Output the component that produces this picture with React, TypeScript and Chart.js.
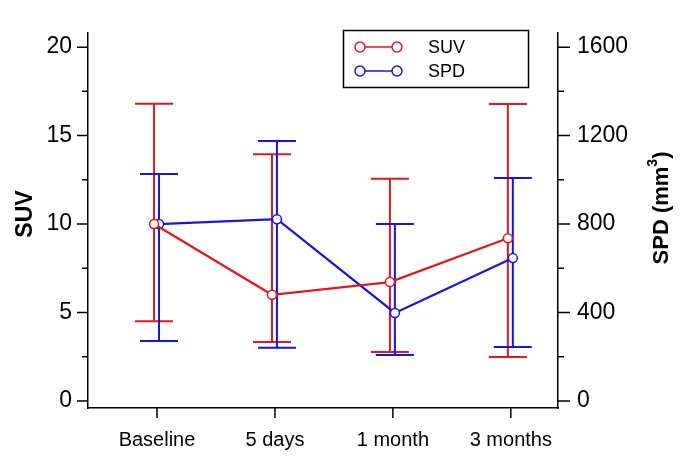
import React, { useEffect, useRef } from "react";
import { Chart, registerables } from "chart.js";

Chart.register(...registerables);

const categories = ["Baseline", "5 days", "1 month", "3 months"];
const suvMean = [10.0, 6.0, 6.72, 9.2];
const suvLower = [4.5, 3.33, 2.77, 2.49];
const suvUpper = [16.8, 13.95, 12.56, 16.78];
const spdMean = [800, 822, 398, 646];
const spdLower = [271, 240, 208, 244];
const spdUpper = [1026, 1175, 800, 1008];
const suvTicks = [0, 5, 10, 15, 20];
const spdTicks = [0, 400, 800, 1200, 1600];

const RED = "rgb(228,24,28)";
const BLUE = "rgb(22,22,228)";
const FONT = "'Liberation Sans', Arial, sans-serif";

const errorBars = {
  id: "errorBars",
  beforeDatasetsDraw(chart: any) {
    const ctx = chart.ctx;
    const sets = [
      { idx: 0, lo: suvLower, hi: suvUpper, axis: "y", color: RED },
      { idx: 1, lo: spdLower, hi: spdUpper, axis: "y1", color: BLUE },
    ];
    ctx.save();
    for (const s of sets) {
      const meta = chart.getDatasetMeta(s.idx);
      const sc = chart.scales[s.axis];
      ctx.strokeStyle = s.color;
      ctx.lineWidth = 2;
      meta.data.forEach((pt: any, i: number) => {
        const x = pt.x;
        const y1 = sc.getPixelForValue(s.lo[i]);
        const y2 = sc.getPixelForValue(s.hi[i]);
        ctx.beginPath();
        ctx.moveTo(x, y1);
        ctx.lineTo(x, y2);
        ctx.moveTo(x - 19, y1);
        ctx.lineTo(x + 19, y1);
        ctx.moveTo(x - 19, y2);
        ctx.lineTo(x + 19, y2);
        ctx.stroke();
      });
    }
    ctx.restore();
  },
};

const decorations = {
  id: "decorations",
  afterDraw(chart: any) {
    const ctx = chart.ctx;
    const y = chart.scales.y;
    const y1 = chart.scales.y1;
    const x = chart.scales.x;
    const a = chart.chartArea;
    ctx.save();
    ctx.strokeStyle = "#000";
    ctx.lineWidth = 1.5;
    ctx.beginPath();
    for (let v = 0; v <= 20; v += 2.5) {
      const p = y.getPixelForValue(v);
      const len = v % 5 === 0 ? 11 : 6;
      ctx.moveTo(a.left, p);
      ctx.lineTo(a.left - len, p);
    }
    for (let v = 0; v <= 1600; v += 200) {
      const p = y1.getPixelForValue(v);
      const len = v % 400 === 0 ? 12 : 6;
      ctx.moveTo(a.right, p);
      ctx.lineTo(a.right + len, p);
    }
    for (let i = 0; i < categories.length; i++) {
      const p = x.getPixelForValue(i);
      ctx.moveTo(p, a.bottom);
      ctx.lineTo(p, a.bottom + 10);
    }
    ctx.stroke();

    // axis titles
    ctx.fillStyle = "#000";
    ctx.textAlign = "center";
    ctx.textBaseline = "middle";
    ctx.font = "bold 23px " + FONT;
    ctx.save();
    ctx.translate(26, 214);
    ctx.rotate(-Math.PI / 2);
    ctx.fillText("SUV", 0, 0);
    ctx.restore();

    ctx.save();
    ctx.translate(662, 208);
    ctx.rotate(-Math.PI / 2);
    const main = "SPD (mm";
    const sup = "3";
    const close = ")";
    ctx.font = "bold 22px " + FONT;
    const w1 = ctx.measureText(main).width;
    const w3 = ctx.measureText(close).width;
    ctx.font = "bold 14px " + FONT;
    const w2 = ctx.measureText(sup).width;
    const total = w1 + w2 + w3;
    let cx = -total / 2;
    ctx.textAlign = "left";
    ctx.font = "bold 22px " + FONT;
    ctx.fillText(main, cx, 0);
    cx += w1;
    ctx.font = "bold 14px " + FONT;
    ctx.fillText(sup, cx, -9);
    cx += w2;
    ctx.font = "bold 22px " + FONT;
    ctx.fillText(close, cx, 0);
    ctx.restore();

    // legend
    ctx.lineWidth = 1.5;
    ctx.strokeStyle = "#000";
    ctx.strokeRect(343.5, 30.5, 185, 57);
    const items = [
      { label: "SUV", color: RED, yy: 47 },
      { label: "SPD", color: BLUE, yy: 71 },
    ];
    ctx.font = "18px " + FONT;
    ctx.textAlign = "left";
    ctx.textBaseline = "middle";
    for (const it of items) {
      ctx.strokeStyle = it.color;
      ctx.lineWidth = 1.5;
      ctx.beginPath();
      ctx.moveTo(360, it.yy);
      ctx.lineTo(397, it.yy);
      ctx.stroke();
      for (const cxp of [360, 397]) {
        ctx.beginPath();
        ctx.arc(cxp, it.yy, 5, 0, Math.PI * 2);
        ctx.fillStyle = "#fff";
        ctx.fill();
        ctx.stroke();
      }
      ctx.fillStyle = "#000";
      ctx.fillText(it.label, 428, it.yy + 1);
    }
    ctx.restore();
  },
};

export default function App() {
  const ref = useRef<HTMLCanvasElement | null>(null);
  useEffect(() => {
    if (!ref.current) return;
    const chart = new Chart(ref.current, {
      type: "line",
      data: {
        datasets: [
          {
            label: "SUV",
            data: suvMean.map((v, i) => ({ x: i - 0.025, y: v })),
            borderColor: RED,
            backgroundColor: "#fff",
            borderWidth: 2.2,
            pointRadius: 4.5,
            pointBorderWidth: 1.5,
            pointBackgroundColor: "#fff",
            pointBorderColor: RED,
            yAxisID: "y",
          },
          {
            label: "SPD",
            data: spdMean.map((v, i) => ({ x: i + 0.017, y: v })),
            borderColor: BLUE,
            backgroundColor: "#fff",
            borderWidth: 2.2,
            pointRadius: 4.5,
            pointBorderWidth: 1.5,
            pointBackgroundColor: "#fff",
            pointBorderColor: BLUE,
            yAxisID: "y1",
          },
        ],
      },
      options: {
        animation: false,
        responsive: false,
        layout: { padding: { top: 33, left: 0, right: 0, bottom: 0 } },
        plugins: { legend: { display: false }, tooltip: { enabled: false } },
        scales: {
          x: {
            type: "linear",
            min: -0.585,
            max: 3.4,
            afterBuildTicks: (s: any) => {
              s.ticks = categories.map((_, i) => ({ value: i }));
            },
            afterFit: (s: any) => {
              s.height = 54;
            },
            grid: { display: false, drawTicks: false },
            border: { display: true, color: "#000", width: 1.5 },
            ticks: {
              padding: 20,
              color: "#000",
              font: { size: 20, family: FONT },
              callback: (v: any) => categories[Math.round(Number(v))] ?? "",
              maxRotation: 0,
              autoSkip: false,
            },
          },
          y: {
            type: "linear",
            position: "left",
            min: -0.4,
            max: 20.8,
            afterBuildTicks: (s: any) => {
              s.ticks = suvTicks.map((v) => ({ value: v }));
            },
            afterFit: (s: any) => {
              s.width = 88;
            },
            grid: { display: false, drawTicks: false },
            border: { display: true, color: "#000", width: 1.5 },
            ticks: {
              padding: 16,
              color: "#000",
              font: { size: 23, family: FONT },
              callback: (v: any) => String(v),
            },
          },
          y1: {
            type: "linear",
            position: "right",
            min: -32,
            max: 1664,
            afterBuildTicks: (s: any) => {
              s.ticks = spdTicks.map((v) => ({ value: v }));
            },
            afterFit: (s: any) => {
              s.width = 131;
            },
            grid: { display: false, drawTicks: false },
            border: { display: true, color: "#000", width: 1.5 },
            ticks: {
              padding: 19,
              color: "#000",
              font: { size: 23, family: FONT },
              callback: (v: any) => String(v),
            },
          },
        },
      },
      plugins: [errorBars, decorations],
    });
    return () => chart.destroy();
  }, []);
  return (
    <div style={{ position: "fixed", left: 0, top: 0, width: 689, height: 462, background: "#fff" }}>
      <canvas ref={ref} width={689} height={462} style={{ width: 689, height: 462 }} />
    </div>
  );
}
